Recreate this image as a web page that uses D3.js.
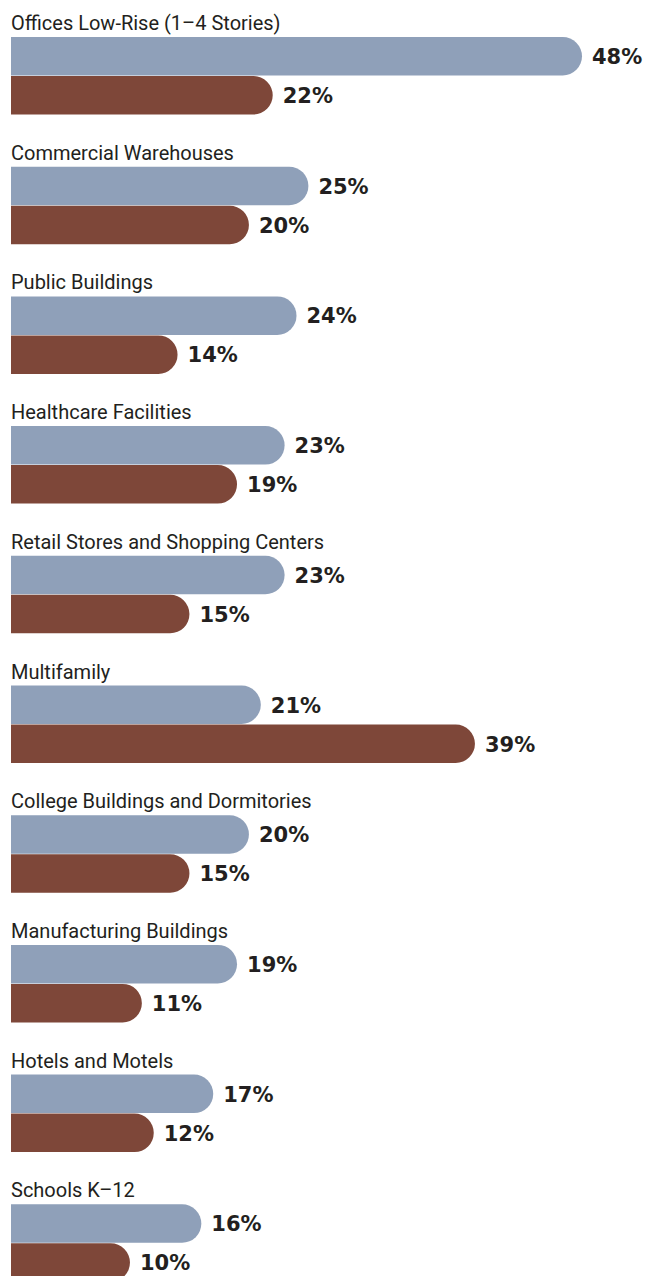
<!DOCTYPE html>
<html>
<head>
<meta charset="utf-8">
<script src="https://cdn.jsdelivr.net/npm/d3@7"></script>
<style>
  body { margin: 0; background: #fff; }
  .cat { font-family: "Roboto", "Liberation Sans", sans-serif; font-size: 20px; fill: #231f20; }
  .val { font-family: "DejaVu Sans", sans-serif; font-weight: bold; font-size: 21px; fill: #231f20; }
</style>
</head>
<body>
<script>
  // building types, top to bottom
  const categories = ['Offices Low-Rise (1–4 Stories)', 'Commercial Warehouses', 'Public Buildings',
    'Healthcare Facilities', 'Retail Stores and Shopping Centers', 'Multifamily',
    'College Buildings and Dormitories', 'Manufacturing Buildings', 'Hotels and Motels', 'Schools K–12'];
  const seriesNames = ['first', 'second'];
  const firstValues = [48, 25, 24, 23, 23, 21, 20, 19, 17, 16];
  const secondValues = [22, 20, 14, 19, 15, 39, 15, 11, 12, 10];
  const colors = ['#8fa0b9', '#7e4739'];

  const width = 656;
  const height = 1276;

  const svg = d3.select('body').append('svg')
    .attr('width', width)
    .attr('height', height);

  const x = d3.scaleLinear()
    .domain([0, 48])
    .range([11, 582]);

  const y = d3.scaleBand()
    .domain(categories)
    .range([37, 37 + 129.7 * categories.length]);

  const inner = d3.scaleBand()
    .domain(seriesNames)
    .range([0, 78]);

  const rows = categories.map((c, i) => ({ name: c, values: [firstValues[i], secondValues[i]] }));

  // bar with a rounded right end
  function bar(x0, x1, y0, h) {
    const r = h / 2;
    const p = d3.path();
    p.moveTo(x0, y0);
    p.lineTo(x1 - r, y0);
    p.arc(x1 - r, y0 + r, r, -Math.PI / 2, Math.PI / 2);
    p.lineTo(x0, y0 + h);
    p.closePath();
    return p.toString();
  }

  const g = svg.selectAll('g.row')
    .data(rows)
    .enter()
    .append('g')
    .attr('class', 'row')
    .attr('transform', d => `translate(0,${y(d.name)})`);

  g.append('text')
    .attr('class', 'cat')
    .attr('x', 11)
    .attr('y', -7)
    .text(d => d.name);

  const h = inner.bandwidth();

  g.selectAll('path')
    .data(d => d.values.map((v, j) => ({ v, s: seriesNames[j], j })))
    .enter()
    .append('path')
    .attr('fill', d => colors[d.j])
    .attr('d', d => bar(x(0), x(d.v), inner(d.s), h - 0.5));

  g.selectAll('text.val')
    .data(d => d.values.map((v, j) => ({ v, s: seriesNames[j] })))
    .enter()
    .append('text')
    .attr('class', 'val')
    .attr('x', d => x(d.v) + 10)
    .attr('y', d => inner(d.s) + h / 2 + 7.5)
    .text(d => d.v + '%');
</script>
</body>
</html>
